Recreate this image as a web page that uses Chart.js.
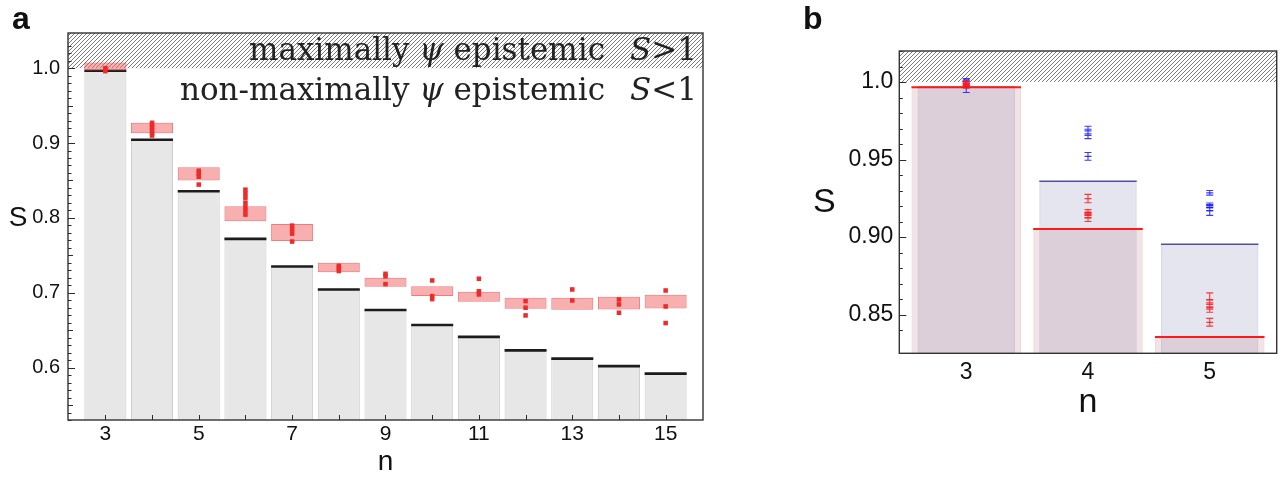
<!DOCTYPE html>
<html>
<head>
<meta charset="utf-8">
<title>S vs n</title>
<script src="https://cdn.jsdelivr.net/npm/chart.js@4.4.6/dist/chart.umd.min.js"></script>
<style>
  body { margin: 0; background: #fff; width: 1282px; height: 477px; position: relative; overflow: hidden; }
  .panel { position: absolute; top: 0; }
  #wrapA { left: 0; }
  #wrapB { left: 760px; }
</style>
</head>
<body>
<div id="wrapA" class="panel"><canvas id="chartA" width="740" height="477"></canvas></div>
<div id="wrapB" class="panel"><canvas id="chartB" width="522" height="477"></canvas></div>
<script>
// ---- panel a : n = 3 .. 15 ----
const nA = [3, 4, 5, 6, 7, 8, 9, 10, 11, 12, 13, 14, 15];
// bound for each n (grey bars, black top line)
const boundA = [0.9965, 0.9044, 0.8355, 0.772, 0.735, 0.7044, 0.677, 0.657, 0.641, 0.623, 0.612, 0.602, 0.592];
// measured range (pink boxes)
const rangeLowA  = [0.997, 0.913, 0.850, 0.7955, 0.769, 0.7275, 0.708, 0.6955, 0.688, 0.6787, 0.6773, 0.6777, 0.679];
const rangeHighA = [1.0075, 0.927, 0.8675, 0.8155, 0.792, 0.740, 0.720, 0.7088, 0.7013, 0.6933, 0.6933, 0.6947, 0.6973];
// individual runs (red squares)
const runsA = [
  [1.000, 0.998, 0.996],
  [0.927, 0.924, 0.921, 0.917, 0.913, 0.910],
  [0.863, 0.859, 0.855, 0.8445],
  [0.8377, 0.8324, 0.827, 0.8204, 0.815, 0.810, 0.8044],
  [0.7897, 0.7844, 0.779, 0.7684],
  [0.736, 0.733, 0.729],
  [0.7253, 0.722, 0.7115],
  [0.7164, 0.6955, 0.6915],
  [0.7187, 0.702, 0.6977],
  [0.6888, 0.680, 0.6697],
  [0.7044, 0.6897],
  [0.691, 0.6844, 0.6733],
  [0.703, 0.6817, 0.6595]
];

// ---- panel b : n = 3 .. 5 ----
const nB = [3, 4, 5];
const redBoundB  = [0.9966, 0.9052, 0.8355];
const blueBoundB = [0.9966, 0.936, 0.8953];
const redMeansB  = [[0.9995, 0.9985, 0.9975], [0.9248, 0.916, 0.914, 0.9125], [0.8595, 0.8565, 0.8545, 0.845]];
const redErrsB   = [[0.0015, 0.0015, 0.0015], [0.0027, 0.0017, 0.0017, 0.0025], [0.0045, 0.003, 0.003, 0.0025]];
const blueMeansB = [[1.0005, 0.9975], [0.9685, 0.9665, 0.952], [0.9285, 0.9205, 0.919, 0.917]];
const blueErrsB  = [[0.0017, 0.0043], [0.003, 0.003, 0.0025], [0.0015, 0.0015, 0.002, 0.003]];

function flatPoints(ns, groups) {
  const out = [];
  groups.forEach((g, i) => g.forEach(v => out.push({ x: ns[i], y: v })));
  return out;
}
const flat = groups => groups.reduce((a, g) => a.concat(g), []);

function hatchPattern(ctx) {
  const c = document.createElement('canvas');
  c.width = 4; c.height = 4;
  const g = c.getContext('2d');
  g.strokeStyle = '#7a7a7a';
  g.lineWidth = 1;
  g.beginPath();
  g.moveTo(0, 4); g.lineTo(4, 0);
  g.moveTo(-1, 1); g.lineTo(1, -1);
  g.moveTo(3, 5); g.lineTo(5, 3);
  g.stroke();
  return ctx.createPattern(c, 'repeat');
}

const isStep = (v, s) => Math.abs(v / s - Math.round(v / s)) < 1e-6;

// draws text made of plain / italic runs, right aligned at `right`
function drawRuns(ctx, runs, right, baseline, size, family) {
  const fonts = runs.map(r => (r.it ? 'italic ' : '') + size + 'px ' + family);
  let w = 0;
  runs.forEach((r, i) => { ctx.font = fonts[i]; w += ctx.measureText(r.t).width; });
  let x = right - w;
  runs.forEach((r, i) => { ctx.font = fonts[i]; ctx.fillText(r.t, x, baseline); x += ctx.measureText(r.t).width; });
}

const panelPlugin = {
  id: 'panel',
  beforeDatasetsDraw(chart, args, opts) {
    const { ctx, chartArea: a, scales: { y } } = chart;
    const yh = y.getPixelForValue(opts.hatchFrom);
    ctx.save();
    ctx.fillStyle = hatchPattern(ctx);
    ctx.fillRect(a.left, a.top, a.right - a.left, yh - a.top);
    ctx.restore();
  },
  afterDatasetDraw(chart, args) {
    const ds = chart.data.datasets[args.index];
    const { ctx, chartArea: a, scales: { y } } = chart;
    ctx.save();
    ctx.beginPath();
    ctx.rect(a.left, a.top, a.right - a.left, a.bottom - a.top);
    ctx.clip();
    if (ds.capColor) {
      ctx.strokeStyle = ds.capColor;
      ctx.lineWidth = ds.capWidth;
      ctx.beginPath();
      args.meta.data.forEach(bar => {
        const p = bar.getProps(['x', 'y', 'width'], true);
        ctx.moveTo(p.x - p.width / 2, p.y);
        ctx.lineTo(p.x + p.width / 2, p.y);
      });
      ctx.stroke();
    }
    if (ds.errors) {
      ctx.strokeStyle = ds.borderColor;
      ctx.lineWidth = 1.1;
      ctx.beginPath();
      args.meta.data.forEach((pt, i) => {
        const v = ds.data[i].y, e = ds.errors[i];
        const y1 = y.getPixelForValue(v + e), y2 = y.getPixelForValue(v - e);
        ctx.moveTo(pt.x, y1); ctx.lineTo(pt.x, y2);
        ctx.moveTo(pt.x - 3.5, y1); ctx.lineTo(pt.x + 3.5, y1);
        ctx.moveTo(pt.x - 3.5, y2); ctx.lineTo(pt.x + 3.5, y2);
      });
      ctx.stroke();
    }
    ctx.restore();
  },
  afterDatasetsDraw(chart, args, opts) {
    const { ctx, chartArea: a, scales: { x, y } } = chart;
    ctx.save();
    ctx.strokeStyle = '#2a2a2a';
    ctx.lineWidth = 1;
    ctx.beginPath();
    y.ticks.forEach(t => {
      if (!isStep(t.value, 0.01)) return;
      const p = Math.round(y.getPixelForValue(t.value)) + 0.5;
      const len = t.label ? 7 : (isStep(t.value, 0.05) ? 5 : 3.5);
      ctx.moveTo(a.left, p); ctx.lineTo(a.left + len, p);
    });
    if (opts.xTicks) {
      x.ticks.forEach(t => {
        const p = Math.round(x.getPixelForValue(t.value)) + 0.5;
        ctx.moveTo(p, a.bottom); ctx.lineTo(p, a.bottom - 5);
      });
    }
    ctx.stroke();
    ctx.lineWidth = 1.4;
    ctx.strokeStyle = '#333';
    ctx.strokeRect(a.left, a.top, a.right - a.left, a.bottom - a.top);
    ctx.restore();
  },
  afterDraw(chart, args, opts) {
    const { ctx, chartArea: a } = chart;
    ctx.save();
    ctx.fillStyle = '#111';
    ctx.textAlign = 'left';
    ctx.textBaseline = 'alphabetic';
    ctx.font = 'bold 32px "Liberation Sans", Arial, sans-serif';
    ctx.fillText(opts.letter, opts.letterX, 29);
    ctx.textAlign = 'center';
    ctx.font = opts.titleSize + 'px "Liberation Sans", Arial, sans-serif';
    ctx.fillText('S', a.left - opts.sOffset, (a.top + a.bottom) / 2 + opts.titleSize * 0.36 - opts.sLift);
    ctx.fillText('n', (a.left + a.right) / 2, a.bottom + opts.nOffset);
    if (opts.regionText) {
      ctx.textAlign = 'left';
      ctx.fillStyle = '#222';
      const serif = '"DejaVu Serif", "Liberation Serif", serif';
      const size = 31;
      drawRuns(ctx, [{ t: 'maximally ' }, { t: 'ψ', it: true }, { t: ' epistemic' }], a.right - 98, a.top + 27, size, serif);
      drawRuns(ctx, [{ t: 'S', it: true }, { t: '>1' }], a.right - 6, a.top + 27, size, serif);
      drawRuns(ctx, [{ t: 'non-maximally ' }, { t: 'ψ', it: true }, { t: ' epistemic' }], a.right - 98, a.top + 67, size, serif);
      drawRuns(ctx, [{ t: 'S', it: true }, { t: '<1' }], a.right - 6, a.top + 67, size, serif);
    }
    ctx.restore();
  }
};

const sans = '"Liberation Sans", Arial, sans-serif';

// ---- panel a chart ----
new Chart(document.getElementById('chartA'), {
  type: 'bar',
  data: {
    datasets: [
      {
        type: 'scatter', label: 'runs', order: 0,
        data: flatPoints(nA, runsA),
        pointStyle: 'rect', pointRadius: 3.2, borderWidth: 0,
        backgroundColor: '#ee2a2a'
      },
      {
        label: 'range', order: 1,
        data: nA.map((n, i) => ({ x: n, y: [rangeLowA[i], rangeHighA[i]] })),
        backgroundColor: 'rgba(242,96,96,0.5)', borderColor: 'rgba(236,90,90,0.8)',
        borderWidth: 1, borderSkipped: false, grouped: false,
        barPercentage: 0.9, categoryPercentage: 1
      },
      {
        label: 'bound', order: 2,
        data: nA.map((n, i) => ({ x: n, y: boundA[i] })),
        backgroundColor: '#e7e7e7', borderColor: '#cccccc', borderWidth: 1,
        grouped: false, barPercentage: 0.9, categoryPercentage: 1,
        capColor: '#1c1c1c', capWidth: 2.6
      }
    ]
  },
  options: {
    responsive: false, animation: false,
    layout: { padding: { left: 0, top: 33, right: 37, bottom: 0 } },
    plugins: {
      legend: { display: false }, tooltip: { enabled: false },
      panel: { hatchFrom: 1.0, xTicks: true, letter: 'a', letterX: 12, titleSize: 28, sOffset: 50, sLift: 11, nOffset: 50, regionText: true }
    },
    scales: {
      x: {
        type: 'linear', min: 2.2, max: 15.8, offset: false,
        grid: { display: false, drawTicks: false }, border: { display: false },
        afterBuildTicks: s => { s.ticks = nA.map(v => ({ value: v })); },
        ticks: {
          autoSkip: false, maxRotation: 0, padding: 2, color: '#111',
          font: { family: sans, size: 21 },
          callback: v => (v % 2 === 1) ? String(v) : ''
        },
        afterFit: s => { s.height = 57; }
      },
      y: {
        min: 0.53, max: 1.047,
        grid: { display: false, drawTicks: false }, border: { display: false },
        ticks: {
          stepSize: 0.01, autoSkip: false, padding: 8, color: '#111',
          font: { family: sans, size: 20 },
          callback: v => isStep(v, 0.1) ? v.toFixed(1) : ''
        },
        afterFit: s => { s.width = 68; }
      }
    }
  },
  plugins: [panelPlugin]
});

// ---- panel b chart ----
new Chart(document.getElementById('chartB'), {
  type: 'bar',
  data: {
    datasets: [
      {
        type: 'scatter', label: 'red runs', order: 0,
        data: flatPoints(nB, redMeansB), errors: flat(redErrsB),
        pointStyle: 'line', pointRadius: 3.5, borderWidth: 1.3,
        borderColor: 'rgba(255,25,25,0.85)', backgroundColor: 'rgba(255,25,25,0.85)'
      },
      {
        type: 'scatter', label: 'blue runs', order: 0,
        data: flatPoints(nB, blueMeansB), errors: flat(blueErrsB),
        pointStyle: 'line', pointRadius: 3.5, borderWidth: 1.3,
        borderColor: 'rgba(25,25,255,0.85)', backgroundColor: 'rgba(25,25,255,0.85)'
      },
      {
        label: 'red bound', order: 1,
        data: nB.map((n, i) => ({ x: n, y: redBoundB[i] })),
        backgroundColor: 'rgba(190,120,130,0.2)', borderColor: 'rgba(210,150,150,0.35)', borderWidth: 1,
        grouped: false, barPercentage: 0.9, categoryPercentage: 1,
        capColor: '#ff1a1a', capWidth: 2
      },
      {
        label: 'blue bound', order: 2,
        data: nB.map((n, i) => ({ x: n, y: blueBoundB[i] })),
        backgroundColor: 'rgba(150,150,190,0.25)', borderColor: 'rgba(130,130,185,0.35)', borderWidth: 1,
        grouped: false, barPercentage: 0.8, categoryPercentage: 1,
        capColor: '#5050a0', capWidth: 1.6
      }
    ]
  },
  options: {
    responsive: false, animation: false,
    layout: { padding: { left: 0, top: 51, right: 5, bottom: 0 } },
    plugins: {
      legend: { display: false }, tooltip: { enabled: false },
      panel: { hatchFrom: 1.0, xTicks: false, letter: 'b', letterX: 43, titleSize: 34, sOffset: 75, sLift: 2, nOffset: 59, regionText: false }
    },
    scales: {
      x: {
        type: 'linear', min: 2.45, max: 5.55, offset: false,
        grid: { display: false, drawTicks: false }, border: { display: false },
        afterBuildTicks: s => { s.ticks = nB.map(v => ({ value: v })); },
        ticks: {
          autoSkip: false, maxRotation: 0, padding: 6, color: '#111',
          font: { family: sans, size: 23 },
          callback: v => String(v)
        },
        afterFit: s => { s.height = 123.7; }
      },
      y: {
        min: 0.825, max: 1.02,
        grid: { display: false, drawTicks: false }, border: { display: false },
        ticks: {
          stepSize: 0.01, autoSkip: false, padding: 6, color: '#111',
          font: { family: sans, size: 23 },
          callback: v => isStep(v, 0.05) ? (v >= 1 ? v.toFixed(1) : v.toFixed(2)) : ''
        },
        afterFit: s => { s.width = 139.3; }
      }
    }
  },
  plugins: [panelPlugin]
});
</script>
</body>
</html>
